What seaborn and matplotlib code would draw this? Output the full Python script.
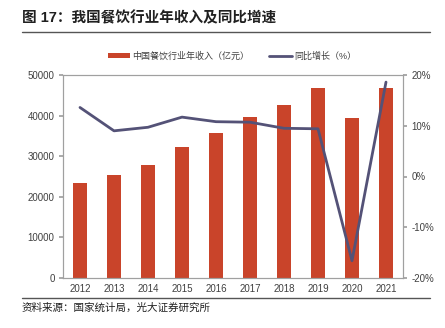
import matplotlib
matplotlib.use("Agg")
import matplotlib.pyplot as plt
import seaborn as sns
import numpy as np
import pandas as pd
from matplotlib.lines import Line2D
from matplotlib.patches import Patch

years = ["2012", "2013", "2014", "2015", "2016", "2017", "2018", "2019", "2020", "2021"]
revenue = [23448, 25392, 27860, 32310, 35799, 39644, 42716, 46721, 39527, 46895]
growth = [13.6, 9.0, 9.7, 11.7, 10.8, 10.7, 9.5, 9.4, -16.6, 18.6]
left_ticks = [0, 10000, 20000, 30000, 40000, 50000]
right_ticks = [-20, -10, 0, 10, 20]
right_labels = ["-20%", "-10%", "0%", "10%", "20%"]
bar_label = "中国餐饮行业年收入（亿元）"
line_label = "同比增长（%）"
title = "图 17：我国餐饮行业年收入及同比增速"
source = "资料来源：国家统计局，光大证券研究所"

sns.set_theme(style="white")
plt.rcParams["font.family"] = ["Liberation Sans", "Noto Sans CJK SC", "DejaVu Sans"]

BAR = "#C9442A"
LINE = "#545277"
GRAY = "#A0A0A0"
TXT = "#404040"

fig = plt.figure(figsize=(4.45, 3.28), dpi=100)
ax = fig.add_axes([63/445, 50/328, 340/445, 203/328])

df = pd.DataFrame({"year": years, "revenue": revenue, "growth": growth})
sns.barplot(data=df, x="year", y="revenue", color=BAR, width=0.44, saturation=1,
            ax=ax, edgecolor="none")
ax.set_ylim(0, 50000)
ax.set_xlim(-0.5, len(years) - 0.5)
ax.set_yticks(left_ticks)
ax.set_yticklabels([str(v) for v in left_ticks])
ax.set_xlabel("")
ax.set_ylabel("")

ax2 = ax.twinx()
sns.lineplot(x=np.arange(len(years)), y=df["growth"], ax=ax2, color=LINE, linewidth=2)
ax2.set_ylim(-20, 20)
ax2.set_yticks(right_ticks)
ax2.set_yticklabels(right_labels)
ax2.set_ylabel("")

for a in (ax, ax2):
    for s in a.spines.values():
        s.set_color(GRAY)
        s.set_linewidth(0.8)
ax.tick_params(axis="y", direction="out", length=3, color=GRAY, labelsize=7, labelcolor=TXT, pad=3)
ax2.tick_params(axis="y", direction="out", length=3, color=GRAY, labelsize=7, labelcolor=TXT, pad=3)
ax.tick_params(axis="x", length=0, labelsize=7, labelcolor=TXT, pad=4)
ax.set_xticks(np.arange(-0.5, len(years)), minor=True)
ax.tick_params(axis="x", which="minor", direction="in", length=3, color=GRAY)

handles = [Patch(facecolor=BAR, edgecolor="none", label=bar_label),
           Line2D([0], [0], color=LINE, lw=2, label=line_label)]
fig.legend(handles=handles, loc="center", bbox_to_anchor=(232/445, 1 - 56/328),
           ncol=2, frameon=False, fontsize=6.5, handlelength=2.5, handleheight=0.5,
           columnspacing=2.2, handletextpad=0.25, labelcolor=TXT)

fig.text(22/445, 1 - 18/328, title, fontsize=10.5, fontweight="bold", color="#202020",
         va="center", ha="left")
fig.add_artist(Line2D([22/445, 430/445], [1 - 32/328, 1 - 32/328], color="#555555", lw=1))
fig.add_artist(Line2D([22/445, 430/445], [1 - 298/328, 1 - 298/328], color="#555555", lw=1))
fig.text(22/445, 1 - 308/328, source, fontsize=7.6, color="#202020", va="center", ha="left")

fig.savefig("out.png", dpi=100)
